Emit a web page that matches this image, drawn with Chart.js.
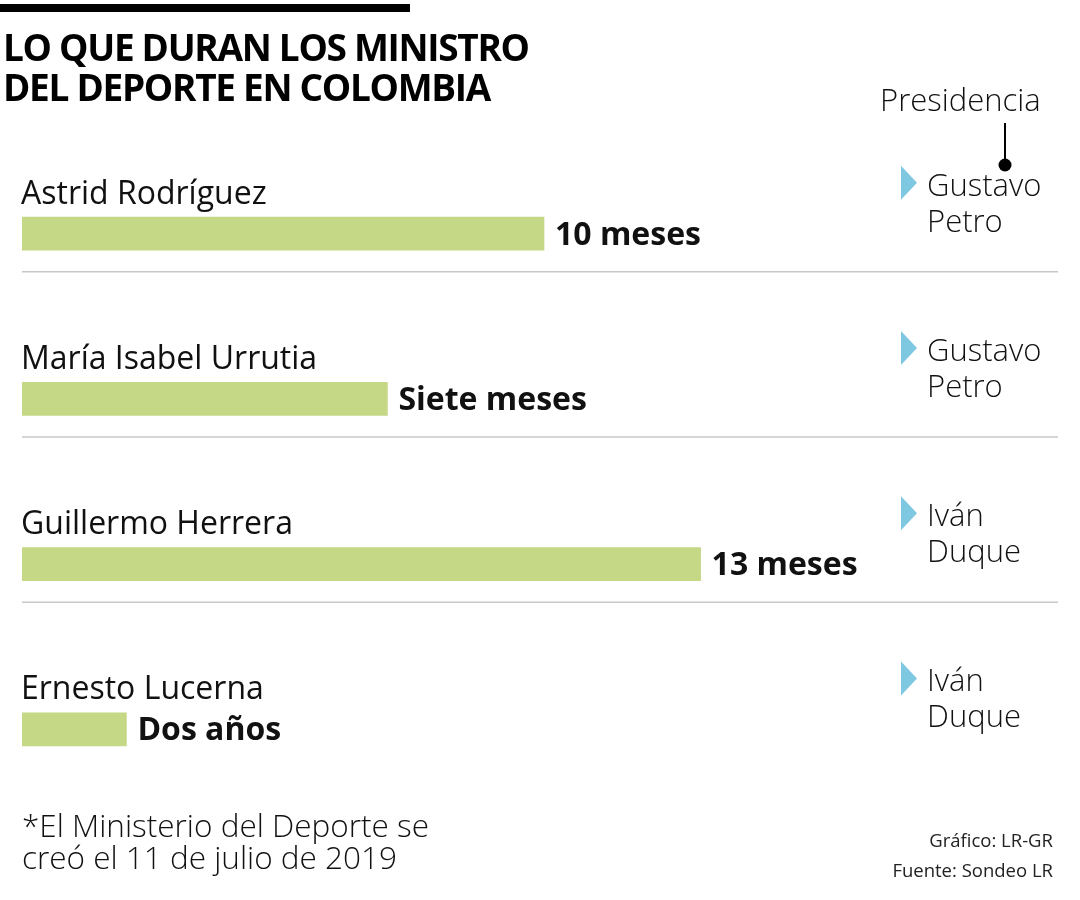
<!DOCTYPE html>
<html lang="es">
<head>
  <meta charset="UTF-8" />
  <title>Lo que duran los ministros del Deporte</title>
  <script src="https://cdn.jsdelivr.net/npm/chart.js"></script>
  <style>
    * { box-sizing: border-box; margin: 0; padding: 0; }
    body { width: 1080px; height: 900px; background: #fff; position: relative; overflow: hidden; font-family: 'Open Sans', sans-serif; color: #111; }
    #chart { position: absolute; left: 0; top: 0; }
    .topbar { position: absolute; left: 0; top: 4px; width: 410px; height: 8px; background: #000; }
    h1 { position: absolute; left: 3px; top: 27px; font-size: 37px; line-height: 40px; font-weight: 700; letter-spacing: -1.3px; color: #000; }
    .presi { position: absolute; left: 880px; top: 78px; font-size: 31px; font-weight: 300; }
    .nota { position: absolute; left: 22px; top: 809px; font-size: 31.5px; line-height: 32px; font-weight: 300; }
    .fuente { position: absolute; right: 27px; top: 825px; font-size: 18.5px; line-height: 30px; font-weight: 400; color: #222; text-align: right; }
  </style>
</head>
<body>
  <canvas id="chart" width="1080" height="900"></canvas>
  <div class="topbar"></div>
  <h1>LO QUE DURAN LOS MINISTRO<br>DEL DEPORTE EN COLOMBIA</h1>
  <div class="presi">Presidencia</div>
  <div class="nota">*El Ministerio del Deporte se<br>creó el 11 de julio de 2019</div>
  <div class="fuente">Gráfico: LR-GR<br>Fuente: Sondeo LR</div>

  <script>
    const categories = ['Astrid Rodríguez', 'María Isabel Urrutia', 'Guillermo Herrera', 'Ernesto Lucerna'];
    const meses = [10, 7, 13, 2];
    const duracionTexto = ['10 meses', 'Siete meses', '13 meses', 'Dos años'];
    const presidencia = [['Gustavo', 'Petro'], ['Gustavo', 'Petro'], ['Iván', 'Duque'], ['Iván', 'Duque']];

    // names, values, separators and presidency column
    const rowLabels = {
      id: 'rowLabels',
      afterDatasetsDraw(chart) {
        const ctx = chart.ctx;
        const area = chart.chartArea;
        const bars = chart.getDatasetMeta(0).data;
        ctx.save();
        ctx.textBaseline = 'alphabetic';

        // presidencia pointer
        ctx.strokeStyle = '#000';
        ctx.lineWidth = 2;
        ctx.beginPath();
        ctx.moveTo(1005, 123);
        ctx.lineTo(1005, 160);
        ctx.stroke();
        ctx.beginPath();
        ctx.arc(1005, 165, 6.5, 0, Math.PI * 2);
        ctx.fillStyle = '#000';
        ctx.fill();

        bars.forEach((bar, i) => {
          const y = bar.y;
          ctx.fillStyle = '#111';
          ctx.textAlign = 'left';
          ctx.font = '400 32px "Open Sans"';
          ctx.fillText(categories[i], area.left - 1, y - 30);

          ctx.font = '700 32px "Open Sans"';
          ctx.fillText(duracionTexto[i], bar.x + 11, y + 11);

          // presidency
          const py = y - 38;
          ctx.fillStyle = '#7fc8e2';
          ctx.beginPath();
          ctx.moveTo(901, py - 30);
          ctx.lineTo(917, py - 13);
          ctx.lineTo(901, py + 4);
          ctx.closePath();
          ctx.fill();
          ctx.fillStyle = '#111';
          ctx.font = '300 31px "Open Sans"';
          ctx.fillText(presidencia[i][0], 927, py);
          ctx.fillText(presidencia[i][1], 927, py + 36);

          if (i < bars.length - 1) {
            ctx.strokeStyle = '#c8c8c8';
            ctx.lineWidth = 1.5;
            ctx.beginPath();
            ctx.moveTo(area.left, y + 38);
            ctx.lineTo(1058, y + 38);
            ctx.stroke();
          }
        });
        ctx.restore();
      }
    };

    new Chart(document.getElementById('chart').getContext('2d'), {
      type: 'bar',
      data: {
        labels: categories,
        datasets: [{
          data: meses,
          backgroundColor: '#c5d886',
          borderWidth: 0,
          barThickness: 33
        }]
      },
      options: {
        indexAxis: 'y',
        responsive: false,
        animation: false,
        layout: { padding: { left: 22, right: 14, top: 151, bottom: 88 } },
        plugins: {
          legend: { display: false },
          tooltip: { enabled: false }
        },
        scales: {
          x: { display: false, min: 0, max: 20 },
          y: { display: false }
        }
      },
      plugins: [rowLabels]
    });
  </script>
</body>
</html>
